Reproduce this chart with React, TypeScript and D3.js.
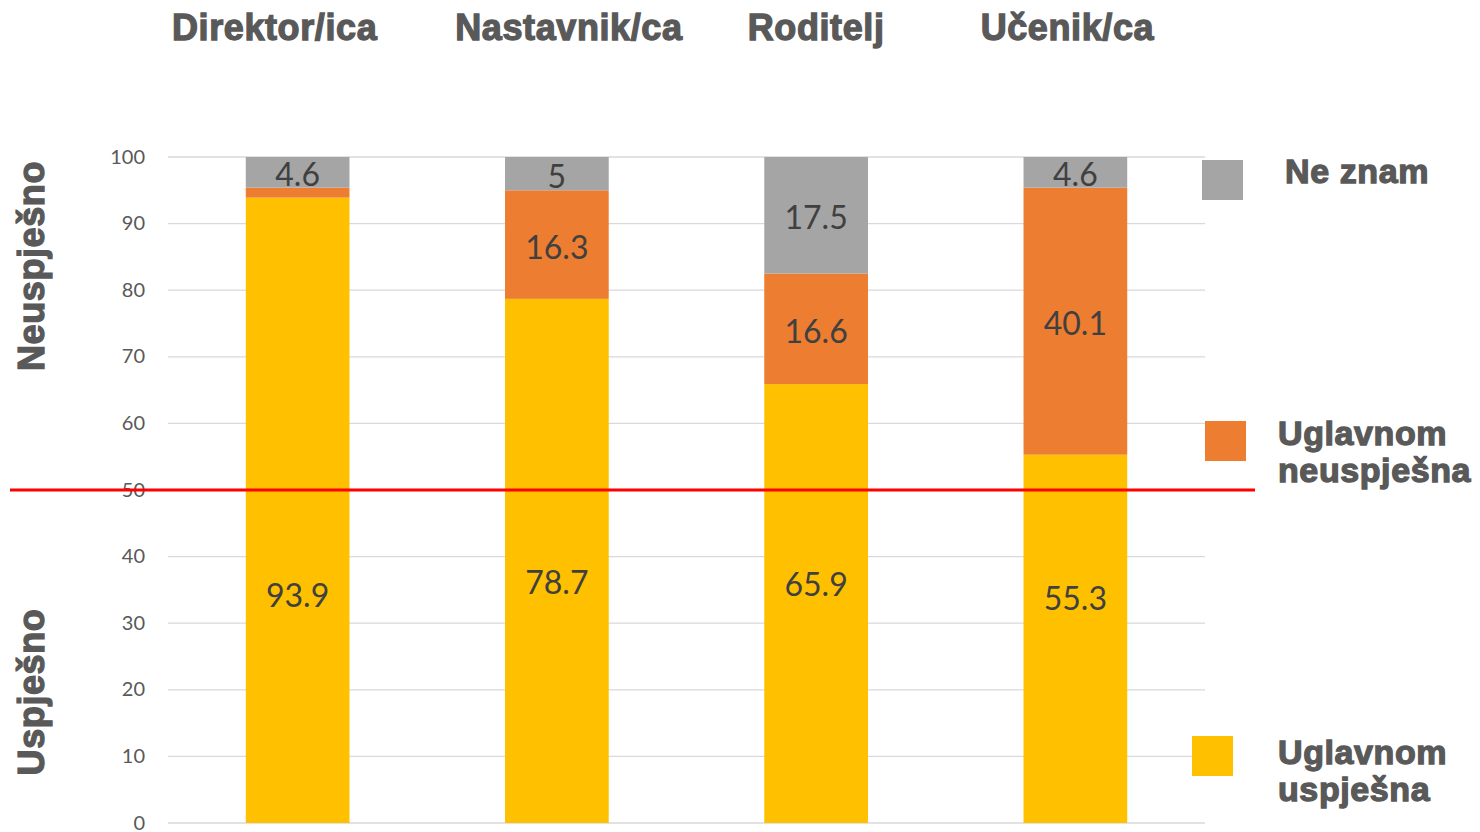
import React, { useEffect, useRef } from "react";
import * as d3 from "d3";

const categories = ["Direktor/ica", "Nastavnik/ca", "Roditelj", "Učenik/ca"];
const uspjesna = [93.9, 78.7, 65.9, 55.3];
const neuspjesna = [1.5, 16.3, 16.6, 40.1];
const neZnam = [4.6, 5, 17.5, 4.6];
const neuspjesnaLabels = ["", "16.3", "16.6", "40.1"];
const neZnamLabels = ["4.6", "5", "17.5", "4.6"];
const uspjesnaLabels = ["93.9", "78.7", "65.9", "55.3"];
const yTicks = [0, 10, 20, 30, 40, 50, 60, 70, 80, 90, 100];
const thresholdValue = 50;

// layout tweaks (not data)
const yellowLabelAt = [34.2, 36.2, 35.9, 33.8];
const titleNudge = [-23, 12, 0, -8];

const W = 1480;
const H = 832;
const COLORS = { usp: "#FFC000", neusp: "#ED7D31", ne: "#A5A5A5" };
const TXT = "#595959";
const BOLD = "'Liberation Sans', Arial, sans-serif";
const NUM = "Lato, 'Open Sans', sans-serif";

export default function App() {
  const ref = useRef<SVGSVGElement | null>(null);

  useEffect(() => {
    const svg = d3.select(ref.current);
    svg.selectAll("*").remove();

    const x = d3
      .scaleBand<string>()
      .domain(categories)
      .range([168, 1205])
      .paddingInner(0.6)
      .paddingOuter(0.3);
    const y = d3.scaleLinear().domain([0, 100]).range([823, 157]);

    // gridlines
    svg
      .append("g")
      .selectAll("line")
      .data(yTicks)
      .join("line")
      .attr("x1", 168)
      .attr("x2", 1205)
      .attr("y1", (d) => y(d))
      .attr("y2", (d) => y(d))
      .attr("stroke", "#d9d9d9")
      .attr("stroke-width", 1.3);

    // tick labels
    svg
      .append("g")
      .selectAll("text")
      .data(yTicks)
      .join("text")
      .attr("x", 145)
      .attr("y", (d) => y(d))
      .attr("dy", "0.33em")
      .attr("text-anchor", "end")
      .attr("font-family", NUM)
      .attr("font-size", 20)
      .attr("fill", TXT)
      .text((d) => String(d));

    const rows = categories.map((c, i) => ({
      c,
      i,
      segs: [
        { key: "usp", y0: 0, y1: uspjesna[i] },
        { key: "neusp", y0: uspjesna[i], y1: uspjesna[i] + neuspjesna[i] },
        {
          key: "ne",
          y0: uspjesna[i] + neuspjesna[i],
          y1: uspjesna[i] + neuspjesna[i] + neZnam[i],
        },
      ],
    }));

    const bw = x.bandwidth();
    const gBars = svg.append("g");
    rows.forEach((r) => {
      r.segs.forEach((s) => {
        gBars
          .append("rect")
          .attr("x", x(r.c)!)
          .attr("width", bw)
          .attr("y", y(s.y1))
          .attr("height", y(s.y0) - y(s.y1))
          .attr("fill", (COLORS as any)[s.key]);
      });
    });

    // value labels
    const gLab = svg
      .append("g")
      .attr("font-family", NUM)
      .attr("font-size", 32)
      .attr("fill", "#404040")
      .attr("text-anchor", "middle");
    rows.forEach((r) => {
      const cx = x(r.c)! + bw / 2;
      const sN = r.segs[1];
      const sG = r.segs[2];
      if (neuspjesnaLabels[r.i])
        gLab.append("text").attr("x", cx).attr("y", y((sN.y0 + sN.y1) / 2) + 14).text(neuspjesnaLabels[r.i]);
      gLab.append("text").attr("x", cx).attr("y", y((sG.y0 + sG.y1) / 2) + 14).text(neZnamLabels[r.i]);
      gLab.append("text").attr("x", cx).attr("y", y(yellowLabelAt[r.i]) + 12).text(uspjesnaLabels[r.i]);
    });

    // threshold line
    svg
      .append("line")
      .attr("x1", 10)
      .attr("x2", 1255)
      .attr("y1", y(thresholdValue))
      .attr("y2", y(thresholdValue))
      .attr("stroke", "#FF0000")
      .attr("stroke-width", 3);

    const boldText = (sel: any, size = 36) =>
      sel
        .attr("font-family", BOLD)
        .attr("font-weight", "bold")
        .attr("font-size", size)
        .attr("fill", TXT)
        .attr("stroke", TXT)
        .attr("stroke-width", 1.3)
        .attr("letter-spacing", 0.6);

    // category titles
    categories.forEach((c, i) => {
      boldText(
        svg
          .append("text")
          .attr("x", x(c)! + bw / 2 + titleNudge[i])
          .attr("y", 40)
          .attr("text-anchor", "middle")
          .text(c)
      );
    });

    // side titles
    boldText(
      svg
        .append("text")
        .attr("transform", `translate(44,266) rotate(-90)`)
        .attr("text-anchor", "middle")
        .text("Neuspješno")
    );
    boldText(
      svg
        .append("text")
        .attr("transform", `translate(44,692) rotate(-90)`)
        .attr("text-anchor", "middle")
        .text("Uspješno")
    );

    // legend
    const legend = [
      { color: COLORS.ne, sq: [1202, 160], lines: ["Ne znam"], tx: 1285, ty: 183 },
      { color: COLORS.neusp, sq: [1205, 421], lines: ["Uglavnom", "neuspješna"], tx: 1278, ty: 445 },
      { color: COLORS.usp, sq: [1192, 736], lines: ["Uglavnom", "uspješna"], tx: 1278, ty: 764 },
    ];
    legend.forEach((l) => {
      svg.append("rect").attr("x", l.sq[0]).attr("y", l.sq[1]).attr("width", 41).attr("height", 40).attr("fill", l.color);
      l.lines.forEach((t, k) => {
        boldText(svg.append("text").attr("x", l.tx).attr("y", l.ty + k * 37).text(t), 34);
      });
    });
  }, []);

  return (
    <svg
      ref={ref}
      width={W}
      height={H}
      style={{ position: "absolute", left: 0, top: 0, display: "block", background: "#fff" }}
    />
  );
}
